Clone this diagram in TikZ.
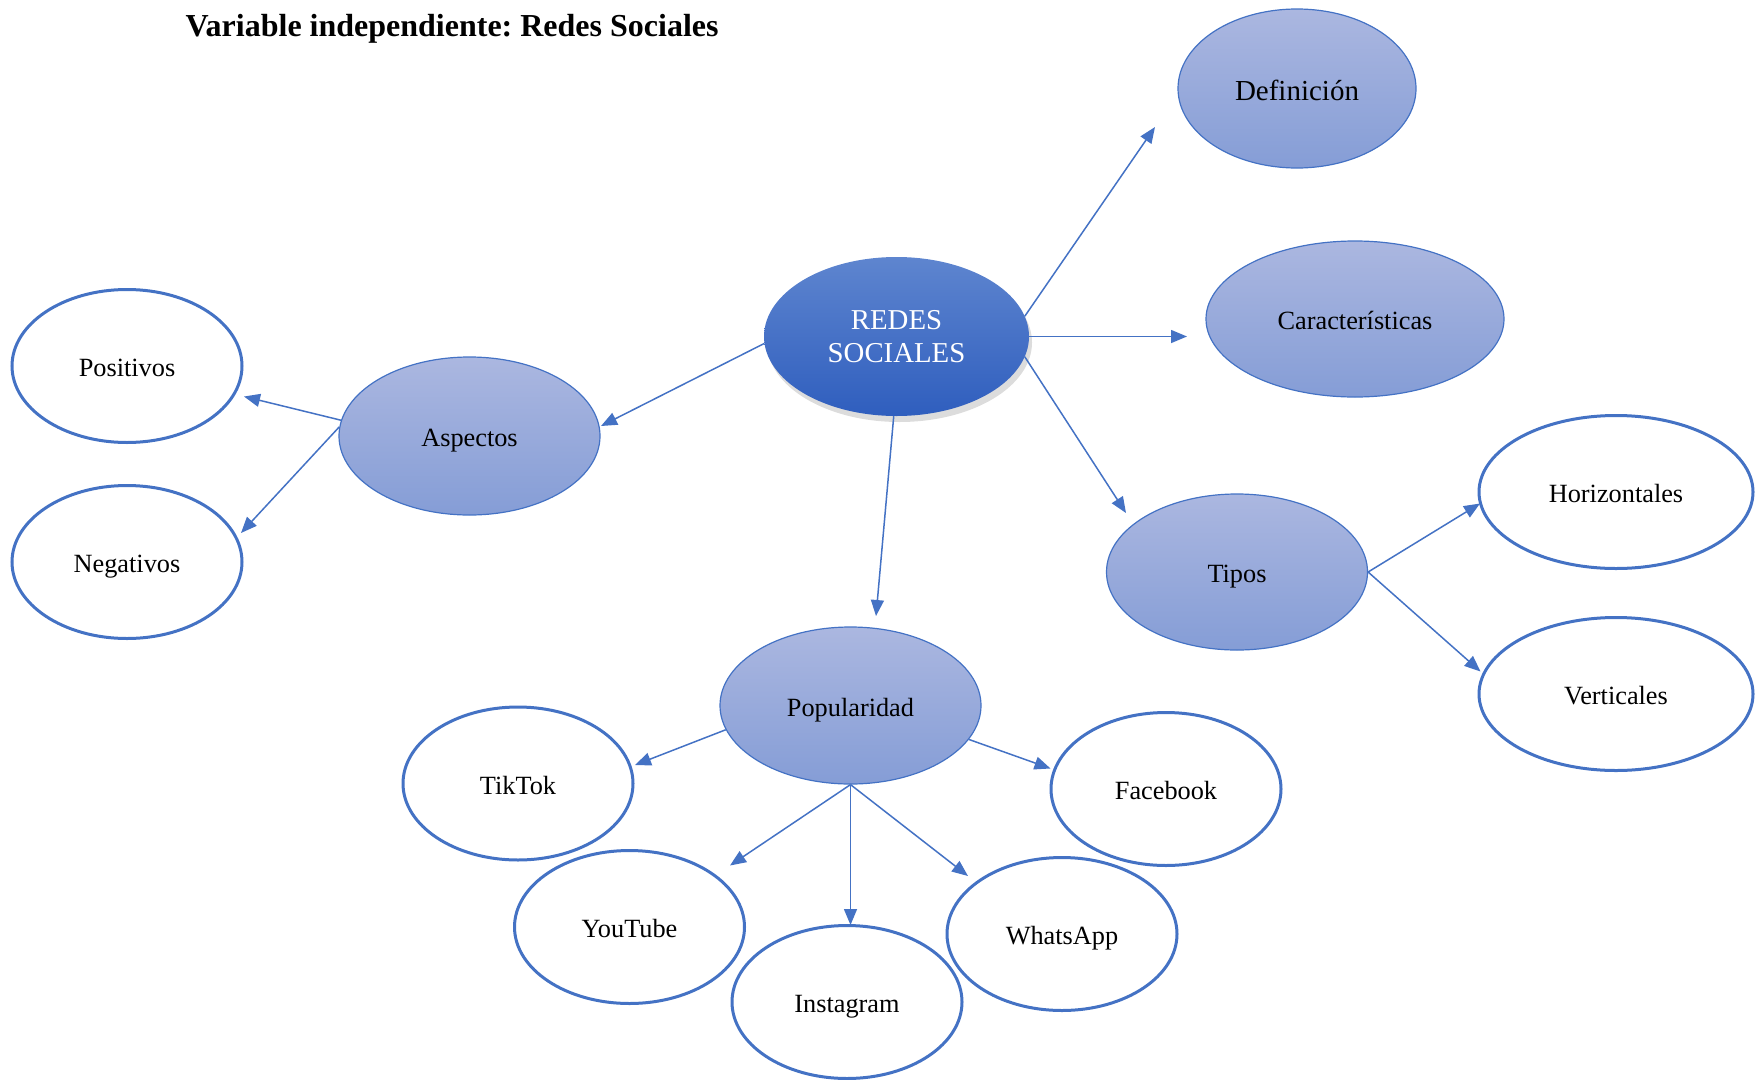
\documentclass[tikz,border=0pt]{standalone}
\usepackage{fontspec}
\setmainfont{Liberation Serif}
\usetikzlibrary{arrows.meta,shadows,shapes.geometric}
\definecolor{accentblue}{HTML}{4472C4}
\definecolor{lighttop}{RGB}{171,183,224}
\definecolor{lightbottom}{RGB}{133,157,214}
\definecolor{darktop}{RGB}{94,133,207}
\definecolor{darkbottom}{RGB}{47,94,190}
\frenchspacing
\begin{document}
\begin{tikzpicture}[x=1pt,y=-1pt,
    idea/.style={ellipse, draw=accentblue, line width=1.2pt, top color=lighttop, bottom color=lightbottom,
        inner sep=0pt, font=\fontsize{26.3}{30}\selectfont, text height=21pt, text depth=0pt},
    leaf/.style={ellipse, draw=accentblue, line width=3pt, fill=white, minimum width=230pt, minimum height=153pt,
        inner sep=0pt, font=\fontsize{26.3}{30}\selectfont, text height=21pt, text depth=0pt},
    link/.style={-{Triangle[length=16pt,width=13pt]}, accentblue, line width=1.5pt}]
    \useasboundingbox (0,0) rectangle (1756,1079);
    \node[anchor=base west, font=\bfseries\fontsize{32}{36}\selectfont] (title) at (182,36.5) {Variable independiente: Redes Sociales};

    % centre
    \node[ellipse, draw=none, top color=darktop, bottom color=darkbottom, minimum width=265pt, minimum height=159pt,
        inner sep=0pt, text=white, align=center, font=\fontsize{28.8}{32.3}\selectfont, text depth=-5pt,
        drop shadow={shadow xshift=3pt, shadow yshift=-6pt, opacity=0.28}] (redes) at (896.5,336.5) {REDES\\SOCIALES};

    % first level
    \node[idea, minimum width=238pt, minimum height=159pt, font=\fontsize{29}{32}\selectfont, text height=23pt] (definicion) at (1297,88.5) {Definición};
    \node[idea, minimum width=298pt, minimum height=156pt] (caracteristicas) at (1355,319) {Características};
    \node[idea, minimum width=261pt, minimum height=158pt] (aspectos) at (469.5,436) {Aspectos};
    \node[idea, minimum width=261pt, minimum height=156pt] (tipos) at (1237,572) {Tipos};
    \node[idea, minimum width=261pt, minimum height=157pt] (popularidad) at (850.5,705.5) {Popularidad};

    % second level
    \node[leaf] (positivos) at (127,366) {Positivos};
    \node[leaf] (negativos) at (127,562) {Negativos};
    \node[leaf, minimum width=274pt] (horizontales) at (1616,492) {Horizontales};
    \node[leaf, minimum width=274pt] (verticales) at (1616,694) {Verticales};
    \node[leaf] (tiktok) at (518,783.5) {TikTok};
    \node[leaf] (youtube) at (629.5,927) {YouTube};
    \node[leaf] (instagram) at (847,1002) {Instagram};
    \node[leaf] (whatsapp) at (1062,934) {WhatsApp};
    \node[leaf] (facebook) at (1166,789) {Facebook};

    % arrow tips
    \coordinate (toDef) at (1155,127);
    \coordinate (toCar) at (1187,336.5);
    \coordinate (toTip) at (1126,513);
    \coordinate (toAsp) at (601,426);
    \coordinate (toPop) at (876,616);
    \coordinate (toPos) at (244,396.5);
    \coordinate (toNeg) at (241,533);
    \coordinate (toHor) at (1480,503.5);
    \coordinate (toVer) at (1480.5,671.5);
    \coordinate (toTik) at (635,765);
    \coordinate (toFac) at (1050.5,768.5);
    \coordinate (toYou) at (730,865.5);
    \coordinate (toIns) at (850.5,925);
    \coordinate (toWha) at (968,876);

    \draw[link] (redes.9) -- (toDef);
    \draw[link] (redes.east) -- (toCar);
    \draw[link] (redes.-9) -- (toTip);
    \draw[link] (redes.183) -- (toAsp);
    \draw[link] (redes.268) -- (toPop);
    \draw[link] (aspectos.173) -- (toPos);
    \draw[link] (aspectos.176) -- (toNeg);
    \draw[link] (tipos.east) -- (toHor);
    \draw[link] (tipos.east) -- (toVer);
    \draw[link] (popularidad.191) -- (toTik);
    \draw[link] (popularidad.-16) -- (toFac);
    \draw[link] (popularidad.south) -- (toYou);
    \draw[link] (popularidad.south) -- (toIns);
    \draw[link] (popularidad.south) -- (toWha);
\end{tikzpicture}
\end{document}
